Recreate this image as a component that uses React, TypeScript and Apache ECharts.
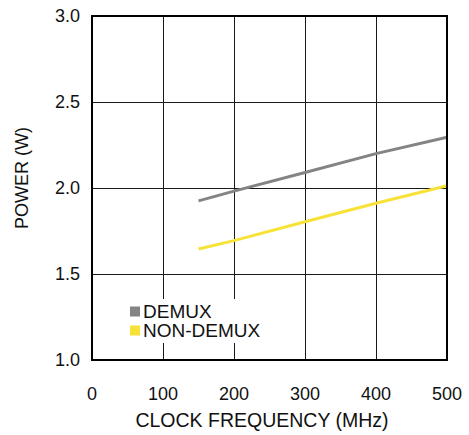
import React, { useEffect, useRef } from "react";
import * as echarts from "echarts";

const freq = [150, 200, 300, 400, 500];
const demux = [1.925, 1.982, 2.09, 2.2, 2.295];
const nonDemux = [1.645, 1.694, 1.804, 1.911, 2.013];
const xTicks = [0, 100, 200, 300, 400, 500];
const yTicks = [1.0, 1.5, 2.0, 2.5, 3.0];
const seriesNames = ["DEMUX", "NON-DEMUX"];
const xName = "CLOCK FREQUENCY (MHz)";
const yName = "POWER (W)";

const FONT = "Liberation Sans, Arial, Helvetica, sans-serif";

export default function App() {
  const ref = useRef<HTMLDivElement>(null);
  useEffect(() => {
    if (!ref.current) return;
    const chart = echarts.init(ref.current, null, { renderer: "svg" });
    chart.setOption({
      animation: false,
      backgroundColor: "#ffffff",
      grid: {
        left: 92,
        right: 22,
        top: 16,
        bottom: 75,
        show: true,
        borderColor: "#000",
        borderWidth: 2,
        backgroundColor: "transparent",
        z: 5,
      },
      xAxis: {
        type: "value",
        min: xTicks[0],
        max: xTicks[xTicks.length - 1],
        interval: 100,
        axisLine: { show: false },
        axisTick: { show: false },
        splitLine: { show: true, lineStyle: { color: "#1a1a1a", width: 1 } },
        axisLabel: { fontSize: 18, fontFamily: FONT, color: "#111", margin: 25 },
      },
      yAxis: {
        type: "value",
        min: yTicks[0],
        max: yTicks[yTicks.length - 1],
        interval: 0.5,
        axisLine: { show: false },
        axisTick: { show: false },
        splitLine: { show: true, lineStyle: { color: "#1a1a1a", width: 1 } },
        axisLabel: {
          fontSize: 18,
          fontFamily: FONT,
          color: "#111",
          margin: 12,
          formatter: (v: number) => v.toFixed(1),
        },
      },
      legend: {
        orient: "vertical",
        left: 126,
        top: 299,
        padding: [3, 6, 3, 4],
        itemGap: 0,
        itemWidth: 10,
        itemHeight: 10,
        icon: "rect",
        backgroundColor: "#ffffff",
        data: seriesNames,
        textStyle: { fontSize: 19, fontFamily: FONT, color: "#111", lineHeight: 18, padding: [0, 0, 0, -2] },
        z: 10,
      },
      graphic: [
        {
          type: "text",
          x: 22,
          y: 178,
          rotation: Math.PI / 2,
          style: {
            text: yName,
            fontSize: 18,
            fontFamily: FONT,
            fill: "#111",
            align: "center",
            verticalAlign: "middle",
          },
        },
        {
          type: "text",
          x: 262,
          y: 420,
          style: {
            text: xName,
            fontSize: 19.5,
            fontFamily: FONT,
            fill: "#111",
            align: "center",
            verticalAlign: "middle",
          },
        },
      ],
      series: [
        {
          name: seriesNames[0],
          type: "line",
          data: freq.map((f, i) => [f, demux[i]]),
          showSymbol: false,
          symbol: "none",
          itemStyle: { color: "#848484" },
          lineStyle: { color: "#848484", width: 3 },
          z: 3,
        },
        {
          name: seriesNames[1],
          type: "line",
          data: freq.map((f, i) => [f, nonDemux[i]]),
          showSymbol: false,
          symbol: "none",
          itemStyle: { color: "#f7e238" },
          lineStyle: { color: "#f7e238", width: 3 },
          z: 3,
        },
      ],
    });
    return () => chart.dispose();
  }, []);
  return <div ref={ref} style={{ width: 469, height: 435, position: "absolute", left: 0, top: 0 }} />;
}
